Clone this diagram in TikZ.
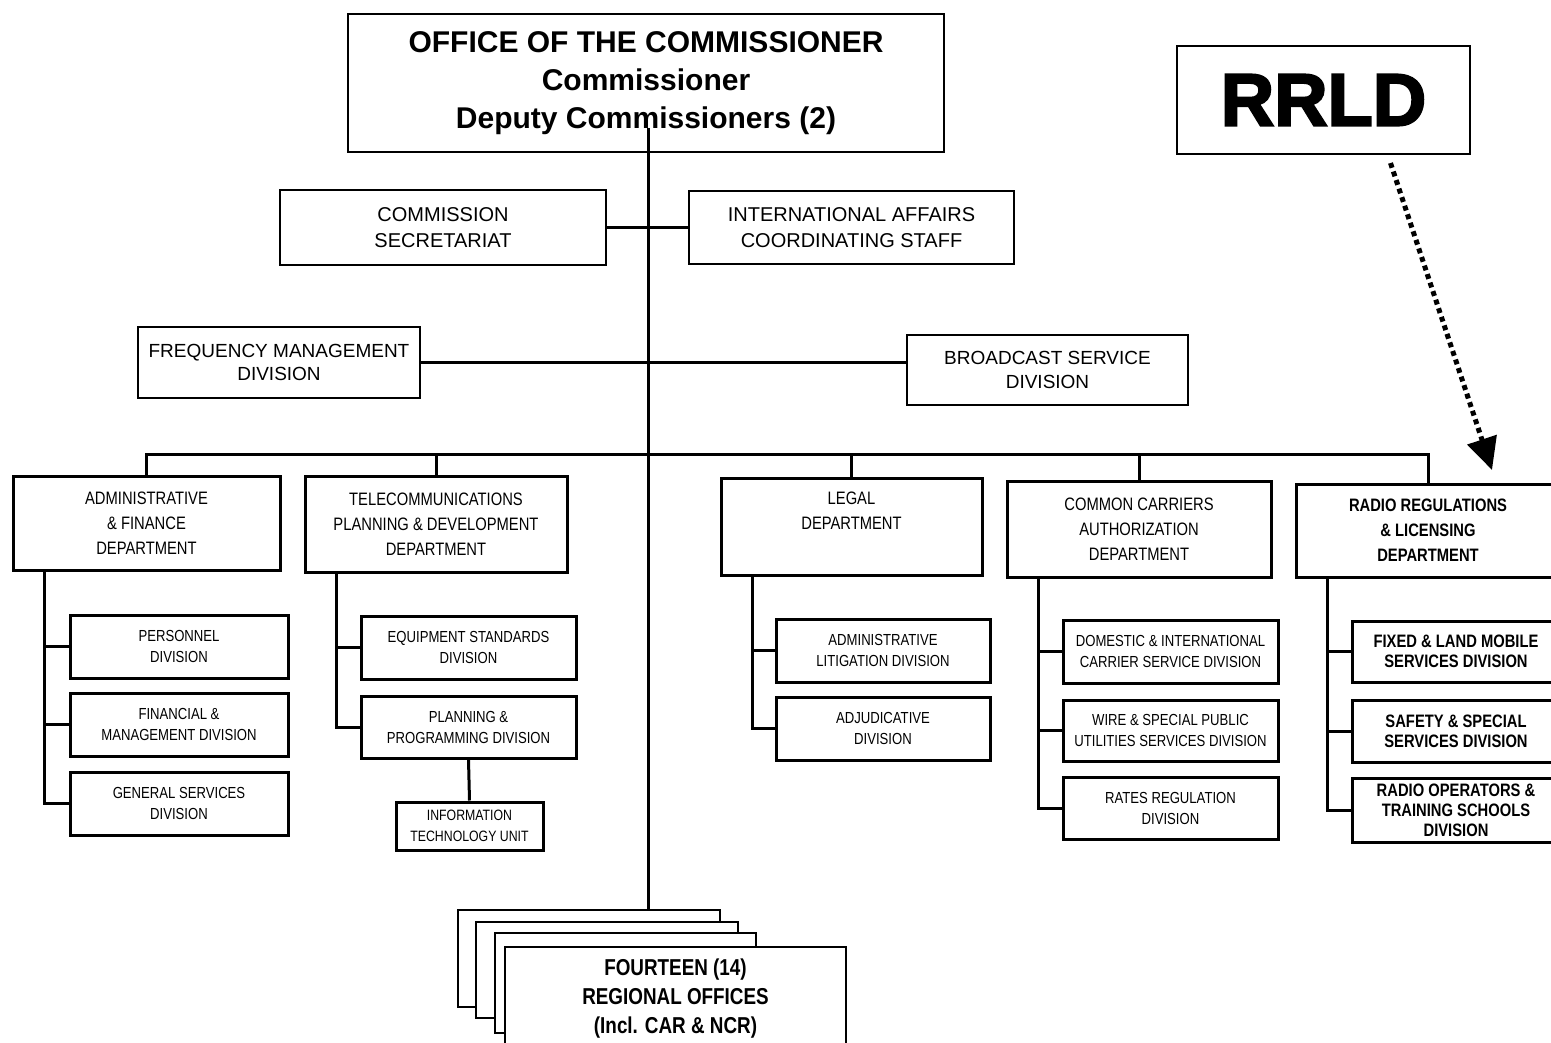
\documentclass[tikz,border=0pt]{standalone}
\usepackage{fontspec}
\setmainfont{Liberation Sans}
\newfontfamily\narrow[FakeStretch=0.82]{Liberation Sans}
\newfontfamily\heavy[FakeBold=3]{Liberation Sans}
\usetikzlibrary{arrows.meta}
\tikzset{
  box/.style={draw, line width=2pt, fill=white, align=center, inner sep=0pt},
  sz/.style 2 args={minimum width=#1pt, minimum height=#2pt},
  headbox/.style={box, font=\bfseries\fontsize{30}{38}\selectfont},
  staff/.style={box, font=\fontsize{20}{26}\selectfont},
  dept/.style={box, line width=3pt, font=\narrow\fontsize{18}{25}\selectfont},
  rdept/.style={dept, font=\narrow\bfseries\fontsize{18}{25}\selectfont},
  divbox/.style={box, line width=3pt, font=\narrow\fontsize{16}{21}\selectfont},
  rdiv/.style={divbox, font=\narrow\bfseries\fontsize{18}{20}\selectfont},
  office/.style={box, line width=2.5pt, font=\narrow\bfseries\fontsize{23}{29}\selectfont},
  link/.style={line width=3pt},
}
\begin{document}
\begin{tikzpicture}[x=1pt, y=-1pt]
  \useasboundingbox[fill=white] (0,0) rectangle (1551,1043);
  \node[headbox, sz={596}{138}] (comm) at (646,83)
    {OFFICE OF THE COMMISSIONER\\Commissioner\\Deputy Commissioners (2)};
  \node[box, sz={293}{108}, font=\heavy\bfseries\fontsize{74}{80}\selectfont] (rrld) at (1323.5,100) {RRLD};
  \node[staff, sz={326}{75}] (sec) at (443,228) {COMMISSION\\SECRETARIAT};
  \node[staff, sz={325}{73}] (iacs) at (851.5,228) {INTERNATIONAL AFFAIRS\\COORDINATING STAFF};
  \node[staff, sz={282}{71}, font=\fontsize{19}{23}\selectfont] (fmd) at (279,362.5) {FREQUENCY MANAGEMENT\\DIVISION};
  \node[staff, sz={281}{70}, font=\fontsize{19}{24}\selectfont] (bsd) at (1047.5,370) {BROADCAST SERVICE\\DIVISION};

  \node[dept, sz={267}{94}] (afd) at (146.5,523) {ADMINISTRATIVE\\\& FINANCE\\DEPARTMENT};
  \node[dept, sz={262}{96}] (tpd) at (436,524) {TELECOMMUNICATIONS\\PLANNING \& DEVELOPMENT\\DEPARTMENT};
  \node[dept, sz={261}{97}] (lgd) at (851.5,526.5) {LEGAL\\DEPARTMENT\\\strut};
  \node[dept, sz={264}{96}] (ccad) at (1139,529) {COMMON CARRIERS\\AUTHORIZATION\\DEPARTMENT};
  \node[rdept, sz={264}{93}] (rrl) at (1428,530.5) {RADIO REGULATIONS\\\& LICENSING\\DEPARTMENT};

  \node[divbox, sz={218}{63}] (pd) at (179,646.5) {PERSONNEL\\DIVISION};
  \node[divbox, sz={218}{63}] (fmv) at (179,724.5) {FINANCIAL \&\\MANAGEMENT DIVISION};
  \node[divbox, sz={218}{63}] (gsd) at (179,803.5) {GENERAL SERVICES\\DIVISION};
  \node[divbox, sz={215}{63}] (esd) at (468.5,647.5) {EQUIPMENT STANDARDS\\DIVISION};
  \node[divbox, sz={215}{62}] (ppd) at (468.5,727) {PLANNING \&\\PROGRAMMING DIVISION};
  \node[divbox, sz={147}{48}, font=\narrow\fontsize{15}{21}\selectfont] (itu) at (469.5,826) {INFORMATION\\TECHNOLOGY UNIT};
  \node[divbox, sz={214}{63}] (ald) at (883,650.5) {ADMINISTRATIVE\\LITIGATION DIVISION};
  \node[divbox, sz={214}{63}] (adj) at (883,728.5) {ADJUDICATIVE\\DIVISION};
  \node[divbox, sz={215}{63}] (dics) at (1170.5,651.5) {DOMESTIC \& INTERNATIONAL\\CARRIER SERVICE DIVISION};
  \node[divbox, sz={215}{61}] (wsp) at (1170.5,730.5) {WIRE \& SPECIAL PUBLIC\\UTILITIES SERVICES DIVISION};
  \node[divbox, sz={215}{62}] (rrd) at (1170.5,808) {RATES REGULATION\\DIVISION};
  \node[rdiv, sz={208}{61}] (flm) at (1456,651.5) {FIXED \& LAND MOBILE\\SERVICES DIVISION};
  \node[rdiv, sz={208}{62}] (ssd) at (1456,731) {SAFETY \& SPECIAL\\SERVICES DIVISION};
  \node[rdiv, sz={208}{64}] (rots) at (1456,810) {RADIO OPERATORS \&\\TRAINING SCHOOLS\\DIVISION};

  \node[office, sz={262}{97}] (ro1) at (589,958.5) {};
  \node[office, sz={262}{96}] (ro2) at (607,970) {};
  \node[office, sz={261}{100}] (ro3) at (625.5,983) {};
  \node[office, sz={341}{103}] (ro4) at (675.5,998.5) {FOURTEEN (14)\\REGIONAL OFFICES\\(Incl. CAR \& NCR)};

  \coordinate (trunk) at (648,128);
  \coordinate (bus) at (648,454);
  \coordinate (tip) at (1492,470);
  \draw[link] (trunk) -- (trunk |- ro1.north);
  \draw[link] (sec.east) -- (iacs.west);
  \draw[link] (fmd.east) -- (fmd.east -| bsd.west);
  \draw[link] (afd.north) |- (bus) -| (rrl.north);
  \foreach \d in {tpd,lgd,ccad}
    \draw[link] (\d.north) -- (\d.north |- bus);
  \foreach \p/\c in {afd/pd,afd/fmv,afd/gsd,tpd/esd,tpd/ppd,lgd/ald,lgd/adj,
                     ccad/dics,ccad/wsp,ccad/rrd,rrl/flm,rrl/ssd,rrl/rots}
    \draw[link] ([xshift=33pt]\p.south west) |- (\c.west);
  \draw[link] (ppd.south) -- (itu.north);
  \draw[line width=5pt, dash pattern=on 5pt off 4pt, -{Triangle[length=32pt,width=30pt]}]
    ([xshift=67pt,yshift=-8pt]rrld.south) -- (tip);
\end{tikzpicture}
\end{document}
